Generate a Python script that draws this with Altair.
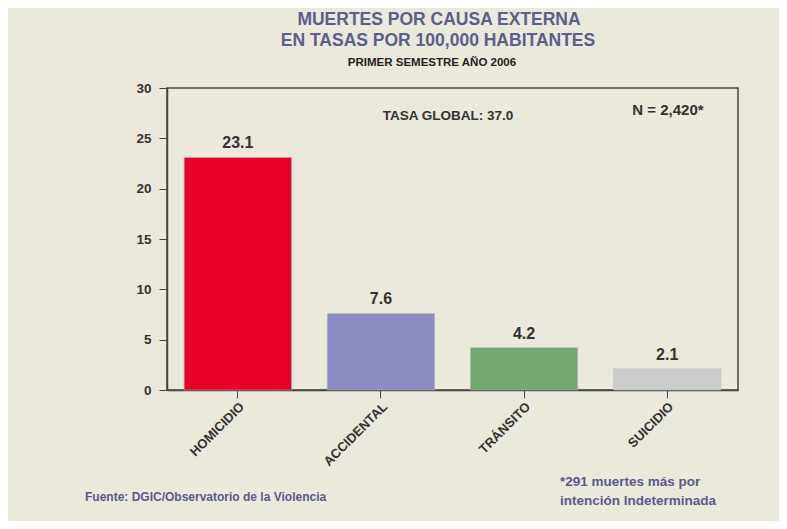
import altair as alt
import pandas as pd

categories = ["HOMICIDIO", "ACCIDENTAL", "TRÁNSITO", "SUICIDIO"]
values = [23.1, 7.6, 4.2, 2.1]
colors = ["#e8002b", "#8a8cc3", "#72a673", "#cbcccd"]
y_ticks = [0, 5, 10, 15, 20, 25, 30]

df = pd.DataFrame({"causa": categories, "tasa": values, "label": [f"{v:.1f}" for v in values]})

FONT = "Liberation Sans"
X0, Y0 = 167, 88
W, H = 738 - X0, 390 - Y0

x = alt.X("causa:N", sort=categories, title=None,
          scale=alt.Scale(paddingInner=0.25, paddingOuter=0.12),
          axis=alt.Axis(labelAngle=-45, labelFontSize=13, labelFontWeight="bold",
                        labelColor="#333333", labelFont=FONT, tickSize=8, tickColor="#444444",
                        domainColor="#444444", domainWidth=1.5, labelPadding=2))
y = alt.Y("tasa:Q", title=None,
          scale=alt.Scale(domain=[0, 30], nice=False),
          axis=alt.Axis(values=y_ticks, labelFontSize=13.5, labelFontWeight="bold",
                        labelColor="#333333", labelFont=FONT, tickSize=8, tickColor="#444444",
                        domainColor="#444444", domainWidth=1.5, labelPadding=8, grid=False))

bars = alt.Chart(df).mark_bar(stroke="#bbbbbb", strokeWidth=0.5).encode(
    x=x, y=y,
    color=alt.Color("causa:N", sort=categories,
                    scale=alt.Scale(domain=categories, range=colors), legend=None),
)
labels = alt.Chart(df).mark_text(dy=-14, fontSize=16, fontWeight="bold", font=FONT,
                                 color="#333333").encode(
    x=alt.X("causa:N", sort=categories), y="tasa:Q", text="label:N")

def txt(s, px, py, size=12, color="#333333", align="center", weight="bold"):
    return alt.Chart(pd.DataFrame({"t": [s]})).mark_text(
        fontSize=size, fontWeight=weight, font=FONT, color=color, align=align,
        baseline="middle").encode(x=alt.value(px - X0), y=alt.value(py - Y0), text="t:N")

L, T = X0 - 8, Y0 - 8
annots = [
    txt("TASA GLOBAL: 37.0", 448, 116, 13.5),
    txt("N = 2,420*", 668, 110, 15),
    txt("MUERTES POR CAUSA EXTERNA", 439, 20, 17.5, "#5b5f8c"),
    txt("EN TASAS POR 100,000 HABITANTES", 438, 41, 17.5, "#5b5f8c"),
    txt("PRIMER SEMESTRE AÑO 2006", 432, 63, 11.5, "#222222"),
    txt("Fuente: DGIC/Observatorio de la Violencia", 85, 497, 12, "#5b5b8c", "left"),
    txt("*291 muertes más por", 560, 482, 13.5, "#5b5b8c", "left"),
    txt("intención Indeterminada", 560, 501, 13.5, "#5b5b8c", "left"),
]

chart = alt.layer(bars, labels, *annots).properties(
    width=W, height=H,
    autosize=alt.AutoSizeParams(type="none"),
    padding={"left": L, "top": T, "right": 771 - L - W, "bottom": 513 - T - H},
    background="#ebe8dc",
).configure_view(stroke="#444444", strokeWidth=1.5)

chart.save("out.html", embed_options={"renderer": "svg", "actions": False})
